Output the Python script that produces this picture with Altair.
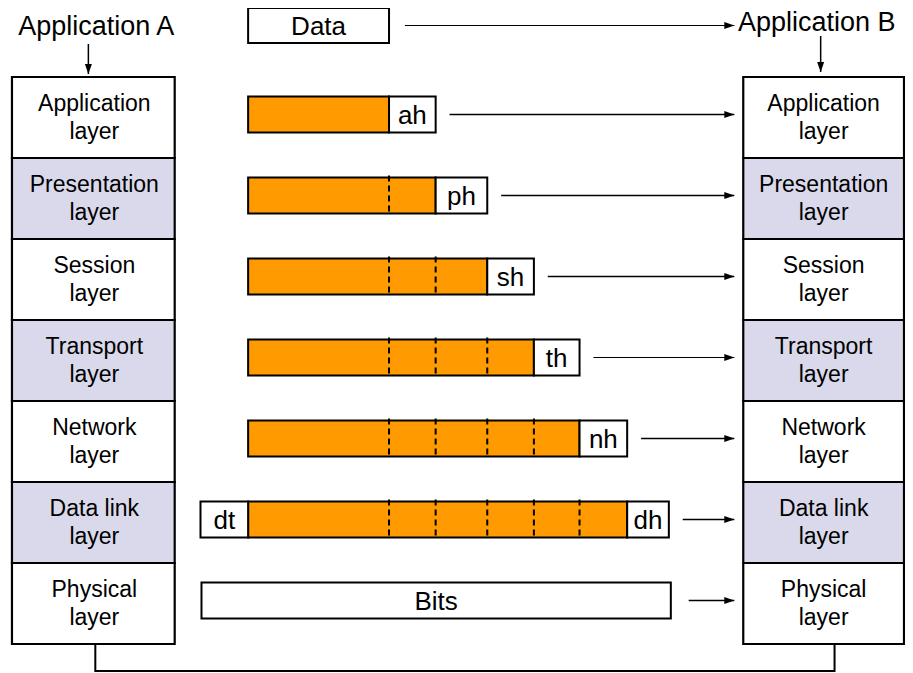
import altair as alt
import pandas as pd

# ---------------- content ----------------
layers = ["Application", "Presentation", "Session", "Transport", "Network", "Data link", "Physical"]
layer_fills = ["#FFFFFF", "#D9D9EB", "#FFFFFF", "#D9D9EB", "#FFFFFF", "#D9D9EB", "#FFFFFF"]
headers = ["ah", "ph", "sh", "th", "nh", "dh"]
header_widths = [47, 52, 47, 46, 48, 42]
trailer = "dt"
trailer_width = 48
endpoints = ["Application A", "Application B"]
payload_label = "Data"
wire_label = "Bits"
arrow_widths = [1.5, 1.5, 1.5, 1.0, 1.5, 1.5, 1.5]

# ---------------- layout ----------------
PLOT_W, PLOT_H = 897, 665
DOM_X = [8, 912]
DOM_Y = [8, 673]
stacks = {"A": (12, 176), "B": (749, 911)}
row_top, row_h = 77, 81
payload_x0, payload_w = 250, 142
bar_h = 36
data_y0, data_y1 = 8, 43
arrow_end = 740
arrow_gap = 14
ORANGE = "#FF9A00"
FONT = "Liberation Sans"

def row_center(i):
    return row_top + row_h * i + row_h / 2

def bar_center(i):
    return row_center(i) - 3

# stack rectangles and labels
stack_rows, stack_text = [], []
for side, (x0, x1) in stacks.items():
    for i, (name, fill) in enumerate(zip(layers, layer_fills)):
        stack_rows.append(dict(x=x0, x2=x1, y=row_top + row_h * i, y2=row_top + row_h * (i + 1), fill=fill))
        cx = (x0 + x1) / 2 + (1 if side == "A" else 0)
        stack_text.append(dict(x=cx, y=row_center(i) - 7, t=name))
        stack_text.append(dict(x=cx, y=row_center(i) + 21, t="layer"))
stack_df = pd.DataFrame(stack_rows)
stack_text_df = pd.DataFrame(stack_text)

# packets
orange, boxes, box_text, dashes, arrows = [], [], [], [], []
for i, h in enumerate(headers):
    edge = payload_x0 + payload_w + sum(header_widths[:i])
    yc = bar_center(i)
    orange.append(dict(x=payload_x0, x2=edge, y=yc - bar_h / 2, y2=yc + bar_h / 2))
    boxes.append(dict(x=edge, x2=edge + header_widths[i], y=yc - bar_h / 2, y2=yc + bar_h / 2))
    box_text.append(dict(x=edge + header_widths[i] / 2, y=yc + 9, t=h))
    for k in range(i):
        d = payload_x0 + payload_w + sum(header_widths[:k])
        dashes.append(dict(x=d, y=yc - bar_h / 2 - 2, y2=yc + bar_h / 2 + 2))
    right = edge + header_widths[i]
    if i == len(headers) - 1:
        boxes.append(dict(x=payload_x0 - trailer_width, x2=payload_x0, y=yc - bar_h / 2, y2=yc + bar_h / 2))
        box_text.append(dict(x=payload_x0 - trailer_width / 2, y=yc + 9, t=trailer))
    arrows.append(dict(x=right + arrow_gap, x2=arrow_end, y=yc, w=arrow_widths[i]))

# bits row
yb = bar_center(len(layers) - 1)
bits_x0 = payload_x0 - trailer_width + 1
bits_x1 = payload_x0 + payload_w + sum(header_widths) + 2
boxes.append(dict(x=bits_x0, x2=bits_x1, y=yb - bar_h / 2, y2=yb + bar_h / 2))
box_text.append(dict(x=(bits_x0 + bits_x1) / 2, y=yb + 9, t=wire_label))
arrows.append(dict(x=bits_x1 + 18, x2=arrow_end, y=yb, w=arrow_widths[-1]))

# data box
data_yc = (data_y0 + data_y1) / 2
boxes.append(dict(x=payload_x0, x2=payload_x0 + payload_w, y=data_y0, y2=data_y1))
box_text.append(dict(x=payload_x0 + payload_w / 2, y=data_yc + 9, t=payload_label))
arrows.append(dict(x=payload_x0 + payload_w + 16, x2=arrow_end, y=data_yc, w=1.0))

orange_df = pd.DataFrame(orange)
boxes_df = pd.DataFrame(boxes)
box_text_df = pd.DataFrame(box_text)
dashes_df = pd.DataFrame(dashes)
arrows_df = pd.DataFrame(arrows)

# endpoint titles and down arrows
title_df = pd.DataFrame([
    dict(x=97, y=35, t=endpoints[0]),
    dict(x=823, y=31, t=endpoints[1]),
])
down_df = pd.DataFrame([
    dict(x=89, y=44, y2=74),
    dict(x=827, y=36, y2=72),
])
bottom = row_top + row_h * len(layers)
link_df = pd.DataFrame([
    dict(x=96, y=bottom, o=0),
    dict(x=96, y=671, o=1),
    dict(x=841, y=671, o=2),
    dict(x=841, y=bottom, o=3),
])

# ---------------- encodings ----------------
xs = alt.Scale(domain=DOM_X, nice=False, zero=False)
ys = alt.Scale(domain=DOM_Y, nice=False, zero=False, reverse=True)

def X(f="x"):
    return alt.X(f, type="quantitative", scale=xs, axis=None)

def Y(f="y"):
    return alt.Y(f, type="quantitative", scale=ys, axis=None)

stack_layer = alt.Chart(stack_df).mark_rect(stroke="black", strokeWidth=2.2).encode(
    x=X(), x2="x2", y=Y(), y2="y2", fill=alt.Fill("fill:N", scale=None))
stack_txt = alt.Chart(stack_text_df).mark_text(font=FONT, fontSize=23, align="center", baseline="alphabetic", color="black").encode(
    x=X(), y=Y(), text="t:N")

orange_layer = alt.Chart(orange_df).mark_rect(fill=ORANGE, stroke="black", strokeWidth=2).encode(
    x=X(), x2="x2", y=Y(), y2="y2")
box_layer = alt.Chart(boxes_df).mark_rect(fill="white", stroke="black", strokeWidth=2).encode(
    x=X(), x2="x2", y=Y(), y2="y2")
box_txt = alt.Chart(box_text_df).mark_text(font=FONT, fontSize=26, align="center", baseline="alphabetic", color="black").encode(
    x=X(), y=Y(), text="t:N")
dash_layer = alt.Chart(dashes_df).mark_rule(color="black", strokeWidth=2, strokeDash=[6, 4]).encode(
    x=X(), y=Y(), y2="y2")

arrow_lines = alt.Chart(arrows_df).mark_rule(color="black").encode(
    x=X(), x2="x2", y=Y(), strokeWidth=alt.StrokeWidth("w:Q", scale=None))
arrow_heads = alt.Chart(arrows_df).mark_point(
    shape="M0,0 L-1,-0.35 L-1,0.35 Z", size=400, filled=True, fill="black", strokeWidth=0, opacity=1).encode(
    x=X("x2"), y=Y())

title_txt = alt.Chart(title_df).mark_text(font=FONT, fontSize=27, align="center", baseline="alphabetic", color="black").encode(
    x=X(), y=Y(), text="t:N")
down_lines = alt.Chart(down_df).mark_rule(color="black", strokeWidth=1.5).encode(
    x=X(), y=Y(), y2="y2")
down_heads = alt.Chart(down_df).mark_point(
    shape="M0,0 L-0.35,-1 L0.35,-1 Z", size=400, filled=True, fill="black", strokeWidth=0, opacity=1).encode(
    x=X(), y=Y("y2"))

link_layer = alt.Chart(link_df).mark_line(color="black", strokeWidth=2).encode(
    x=X(), y=Y(), order="o:Q")

chart = alt.layer(
    link_layer, stack_layer, stack_txt,
    orange_layer, dash_layer, box_layer, box_txt,
    arrow_lines, arrow_heads,
    title_txt, down_lines, down_heads,
).properties(
    width=PLOT_W, height=PLOT_H,
    autosize=alt.AutoSizeParams(type="none"),
    padding=0,
    background="white",
).configure_view(stroke=None)

chart.save("out.html", embed_options={"renderer": "svg", "actions": False})
